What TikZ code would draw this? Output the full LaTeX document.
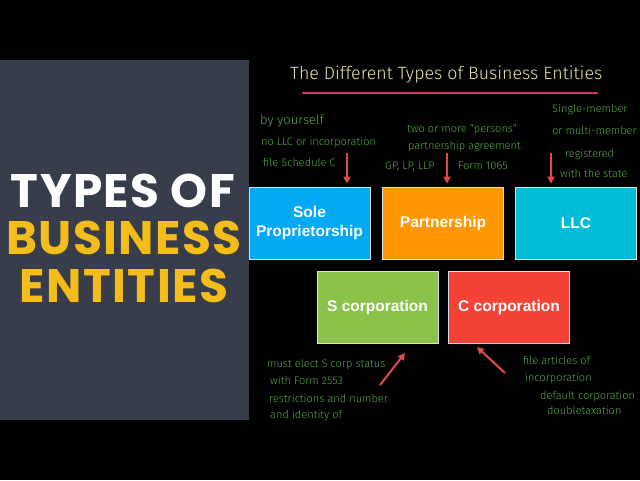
\documentclass[tikz,border=0pt]{standalone}
\usepackage{fontspec}
\setmainfont{Liberation Sans}
\newfontfamily\hand{Fira Sans}[UprightFont={* Light}]
\newfontfamily\headfont{Poppins}[LetterSpace=3]
\usetikzlibrary{arrows.meta}
\definecolor{panel}{HTML}{373D4A}
\definecolor{headyellow}{HTML}{F5BD1B}
\definecolor{cblue}{HTML}{03A9F4}
\definecolor{corange}{HTML}{FF9800}
\definecolor{ccyan}{HTML}{00BCD4}
\definecolor{cgreen}{HTML}{8BC34A}
\definecolor{cred}{HTML}{F44336}
\definecolor{edgegray}{HTML}{D8E0E4}
\definecolor{chalkgreen}{HTML}{5DAA4C}
\definecolor{chalkcream}{HTML}{E6E4A4}
\definecolor{chalkpink}{HTML}{D2305E}
\definecolor{arrowred}{HTML}{E24A4A}
\tikzset{
  entity/.style={draw=edgegray, line width=0.6pt, minimum width=121pt, minimum height=72pt,
    inner sep=0pt, text=white, font=\fontsize{15.5}{19}\selectfont\bfseries, align=center},
  note/.style={anchor=mid west, inner sep=0pt, text=chalkgreen, font=\hand\fontsize{11}{12}\selectfont},
  redarrow/.style={draw=arrowred, line width=2pt, -{Triangle[width=7pt,length=7pt]}},
  headline/.style={inner sep=0pt, font=\headfont\bfseries\fontsize{47}{50}\selectfont}
}
\begin{document}
\begin{tikzpicture}[x=1pt,y=-1pt]
\useasboundingbox (0,0) rectangle (640,480);
\fill[black] (0,0) rectangle (640,480);
\fill[panel] (0,60) rectangle (249,420);
% left heading
\node[headline, text=white] (h1) at (123,191) {TYPES OF};
\node[headline, text=headyellow] (h2) at (124,238) {BUSINESS};
\node[headline, text=headyellow] (h3) at (124,286) {ENTITIES};
% title
\node[inner sep=0pt, text=chalkcream, font=\hand\fontsize{17.8}{22}\selectfont, anchor=mid west] (title) at (290,77) {The Different Types of Business Entities};
\coordinate (ul1) at (302,93);
\coordinate (ul2) at (598,93);
\draw[chalkpink, line width=1.6pt] (ul1) -- (ul2);
% boxes
\node[entity, fill=cblue] (sole) at (309.5,223) {Sole\\Proprietorship};
\node[entity, fill=corange] (part) at (443,223) {Partnership};
\node[entity, fill=ccyan] (llc) at (576,223) {LLC};
\node[entity, fill=cgreen] (scorp) at (377.5,307.5) {S corporation};
\node[entity, fill=cred] (ccorp) at (509,307.5) {C corporation};
% notes sole
\node[note, font=\hand\fontsize{13}{14}\selectfont] (n1) at (260,122) {by yourself};
\node[note] (n2) at (261,143) {no LLC or incorporation};
\node[note] (n3) at (263,164) {file Schedule C};
% notes partnership
\node[note] (p1) at (407,130) {two or more “persons”};
\node[note] (p2) at (408,147) {partnership agreement};
\node[note] (p3) at (385,167) {GP, LP, LLP};
\node[note] (p4) at (458,167) {Form 1065};
% notes llc
\node[note] (l1) at (552,110) {Single-member};
\node[note] (l2) at (552,132) {or multi-member};
\node[note] (l3) at (565,155) {registered};
\node[note] (l4) at (560,175) {with the state};
% notes s corp
\node[note] (s1) at (267,365) {must elect S corp status};
\node[note] (s2) at (270,382) {with Form 2553};
\node[note] (s3) at (269,400) {restrictions and number};
\node[note] (s4) at (270,416) {and identity of};
% notes c corp
\node[note] (c1) at (523,362) {file articles of};
\node[note] (c2) at (525,379) {incorporation};
\node[note] (c3) at (540,397) {default corporation};
\node[note] (c4) at (547,412) {doubletaxation};
% arrows
\coordinate (a1) at (347,153);
\coordinate (a2) at (447,153);
\coordinate (a3) at (551,153);
\draw[redarrow, shorten >=3pt] (a1) -- (a1 |- sole.north);
\draw[redarrow, shorten >=3pt] (a2) -- (a2 |- part.north);
\draw[redarrow, shorten >=3pt] (a3) -- (a3 |- llc.north);
\coordinate (sa1) at (380,385);
\coordinate (sa2) at (405,353);
\draw[redarrow] (sa1) -- (sa2);
\coordinate (ca1) at (505,373);
\coordinate (ca2) at (477,347);
\draw[redarrow] (ca1) -- (ca2);
\end{tikzpicture}
\end{document}
